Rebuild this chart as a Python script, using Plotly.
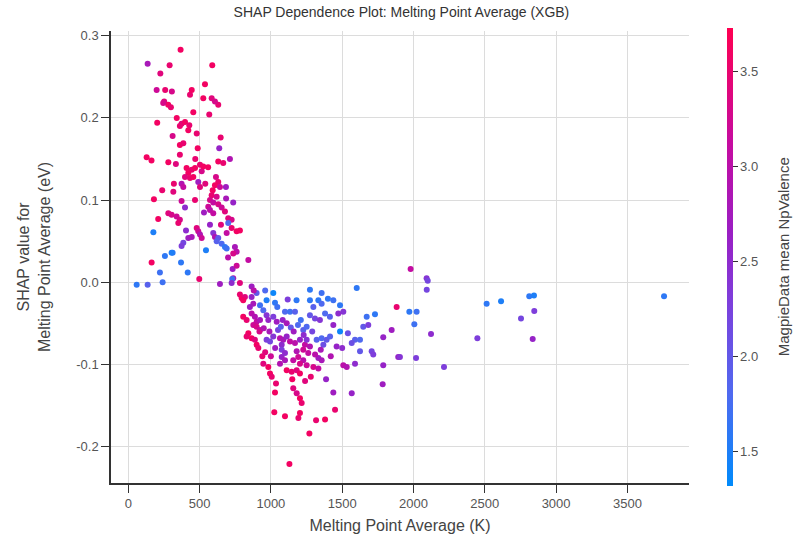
import plotly.graph_objects as go

# Melting point average (K) for each sample
melt_point = [
    136, 367, 290, 225, 589, 199, 259, 306, 252, 280, 299, 245, 433, 445, 538, 526, 585, 631, 608, 456,
    568, 203, 374, 398, 362, 428, 421, 480, 311, 648, 362, 386, 487, 638, 362, 129, 163, 281, 334, 631,
    666, 713, 409, 445, 421, 398, 468, 503, 515, 526, 433, 456, 374, 386, 491, 503, 615, 631, 608, 643,
    685, 238, 316, 592, 585, 620, 180, 374, 468, 573, 596, 631, 655, 678, 686, 736, 398, 531, 281, 304,
    339, 362, 351, 561, 573, 596, 701, 725, 210, 701, 573, 725, 760, 783, 480, 491, 405, 421, 445, 596,
    608, 631, 620, 176, 386, 374, 503, 515, 655, 678, 690, 748, 760, 736, 311, 257, 545, 842, 164, 370,
    222, 417, 732, 736, 498, 1980, 2092, 304,
    59, 136, 241, 643, 729, 725, 783, 865, 783, 795, 818, 806, 900, 865, 877, 853, 970, 1017, 1029, 1118,
    924, 947, 806, 830, 865, 888, 900, 924, 970, 982, 1017, 1041, 1099, 1134, 1169, 1083, 1111, 1274, 1356, 1333,
    1356, 1274, 1298, 1438, 1485, 1508, 1473, 1380, 1414, 1274, 1309, 1344, 1227, 1251, 1485, 1438, 1602, 1672, 1730, 1648,
    1683, 1882, 1847, 1788, 1590, 1567, 1625, 1625, 1707, 1718, 1893, 1788, 1590, 1508, 1532, 1784, 1567, 1438, 1387, 1450,
    1380, 1317, 1270, 1204, 1193, 1099, 1024, 1216, 1204, 1157, 1181, 1029, 1036, 994, 1006, 982, 947, 940, 1111, 1146,
    1181, 1204, 1064, 1076, 1099, 1157, 1192, 1227, 1204, 1251, 1298, 1333, 1333, 1356, 842, 830, 865, 888, 900, 912,
    877, 900, 924, 970, 994, 1017, 1064, 1087, 1111, 1134, 1076, 1169, 1204, 1239, 1251, 1274, 1227, 1181, 1262, 1321,
    1356, 1391, 1368, 1415, 1461, 1076, 1099,
    2100, 2093, 1971, 2022, 2006, 2123, 1905, 2018, 2214, 2448, 2513, 2614, 2812, 2845, 2754, 2847, 2836, 3757, 1130,
    920, 950, 960, 1000, 1030, 1050, 1070, 1140, 1160, 1190, 1210, 1230, 1290, 1310, 1350, 1240, 1280, 1150, 990, 1045,
    1180, 1400, 1420, 1500, 1540, 960, 880, 760, 700, 650, 690, 560, 540, 470, 340, 320,
]

# SHAP value (eV) for the melting point feature
shap_value = [
    0.266, 0.283, 0.264, 0.254, 0.264, 0.234, 0.234, 0.232, 0.220, 0.216, 0.213, 0.218, 0.228, 0.234, 0.241, 0.224, 0.224, 0.216, 0.220, 0.207,
    0.204, 0.194, 0.193, 0.195, 0.190, 0.191, 0.185, 0.181, 0.178, 0.176, 0.167, 0.169, 0.163, 0.163, 0.155, 0.152, 0.148, 0.146, 0.144, 0.147,
    0.145, 0.150, 0.139, 0.137, 0.133, 0.128, 0.139, 0.143, 0.135, 0.141, 0.127, 0.128, 0.120, 0.116, 0.122, 0.116, 0.128, 0.122, 0.118, 0.116,
    0.116, 0.112, 0.110, 0.112, 0.106, 0.104, 0.101, 0.099, 0.100, 0.100, 0.097, 0.095, 0.091, 0.086, 0.102, 0.097, 0.091, 0.085, 0.084, 0.082,
    0.080, 0.076, 0.072, 0.092, 0.088, 0.084, 0.078, 0.076, 0.077, 0.072, 0.070, 0.066, 0.062, 0.063, 0.066, 0.062, 0.063, 0.054, 0.055, 0.060,
    0.055, 0.054, 0.050, 0.061, 0.048, 0.044, 0.058, 0.054, 0.047, 0.043, 0.041, 0.043, 0.037, 0.035, 0.036, 0.032, 0.039, 0.027, 0.024, 0.024,
    0.012, 0.012, 0.016, 0.005, 0.004, 0.016, 0.005, 0.036,
    -0.003, -0.003, 0.000, -0.002, 0.004, -0.001, -0.001, -0.005, -0.015, -0.019, -0.018, -0.022, -0.013, -0.018, -0.026, -0.030, -0.022, -0.013, -0.025, -0.021,
    -0.028, -0.034, -0.042, -0.046, -0.038, -0.042, -0.048, -0.046, -0.040, -0.046, -0.042, -0.048, -0.036, -0.036, -0.036, -0.046, -0.050, -0.009, -0.013, -0.022,
    -0.026, -0.022, -0.030, -0.022, -0.028, -0.036, -0.038, -0.038, -0.042, -0.040, -0.044, -0.046, -0.058, -0.054, -0.060, -0.052, -0.007, -0.042, -0.039, -0.054,
    -0.052, -0.030, -0.058, -0.067, -0.070, -0.074, -0.070, -0.084, -0.084, -0.088, -0.091, -0.101, -0.099, -0.101, -0.103, -0.124, -0.135, -0.134, -0.118, -0.155,
    -0.167, -0.168, -0.184, -0.159, -0.165, -0.163, -0.158, -0.147, -0.141, -0.129, -0.135, -0.134, -0.123, -0.111, -0.115, -0.103, -0.099, -0.090, -0.107, -0.109,
    -0.107, -0.111, -0.099, -0.091, -0.095, -0.095, -0.091, -0.095, -0.099, -0.101, -0.103, -0.105, -0.092, -0.095, -0.062, -0.066, -0.068, -0.070, -0.076, -0.080,
    -0.052, -0.054, -0.058, -0.070, -0.072, -0.066, -0.068, -0.070, -0.066, -0.072, -0.076, -0.074, -0.070, -0.076, -0.070, -0.078, -0.082, -0.084, -0.086, -0.070,
    -0.068, -0.070, -0.076, -0.066, -0.078, -0.082, -0.086,
    0.002, -0.009, -0.036, -0.036, -0.051, -0.063, -0.091, -0.092, -0.103, -0.068, -0.026, -0.023, -0.017, -0.016, -0.044, -0.035, -0.069, -0.017, -0.221,
    -0.060, -0.056, -0.085, -0.090, -0.080, -0.058, -0.054, -0.055, -0.060, -0.052, -0.046, -0.064, -0.060, -0.088, -0.082, -0.120, -0.115, -0.118, -0.060, -0.030,
    -0.022, -0.020, -0.090, -0.080, -0.062, -0.010, -0.010, 0.020, 0.030, 0.070, 0.060, 0.140, 0.120, 0.150, 0.200, 0.120,
]

# Colouring feature: MagpieData mean NpValence
np_valence = [
    2.8, 3.6, 3.5, 3.4, 3.6, 3.2, 3.5, 3.3, 3.4, 3.6, 3.5, 3.3, 3.5, 3.6, 3.6, 3.6, 3.4, 3.5, 3.3, 3.6,
    3.5, 3.6, 3.4, 3.6, 3.5, 3.5, 3.6, 3.5, 3.3, 3.5, 3.6, 3.5, 3.6, 2.6, 3.5, 3.6, 3.6, 3.6, 3.4, 3.6,
    3.5, 2.9, 3.6, 3.5, 3.6, 3.4, 3.6, 3.5, 3.3, 3.6, 3.5, 3.6, 2.9, 3.1, 2.7, 3.4, 3.3, 3.5, 3.6, 3.2,
    2.7, 3.5, 3.4, 3.6, 3.5, 3.3, 3.6, 3.2, 3.5, 3.3, 3.1, 3.3, 3.2, 3.4, 2.8, 2.6, 2.5, 2.7, 3.4, 3.3,
    3.2, 3.3, 3.5, 3.2, 3.0, 3.1, 3.4, 3.3, 3.6, 1.8, 2.6, 3.5, 3.6, 3.6, 3.4, 3.2, 2.5, 2.7, 2.8, 2.4,
    2.9, 2.0, 1.9, 1.5, 2.2, 2.3, 2.9, 3.2, 1.8, 1.6, 1.7, 2.8, 3.0, 3.3, 1.6, 1.6, 1.5, 3.1, 3.6, 1.6,
    1.7, 1.6, 2.7, 2.8, 3.5, 3.1, 2.4, 1.5,
    1.6, 1.9, 1.7, 2.7, 1.7, 2.5, 3.4, 2.7, 3.5, 3.6, 3.4, 3.6, 2.0, 2.6, 2.8, 2.7, 1.5, 1.4, 1.6, 2.3,
    1.7, 1.8, 3.6, 3.5, 3.0, 2.9, 3.1, 2.8, 2.4, 2.6, 2.3, 2.7, 1.8, 1.7, 1.9, 2.6, 2.8, 1.6, 1.7, 1.6,
    1.8, 1.6, 1.9, 1.7, 1.6, 2.4, 2.5, 1.8, 1.9, 2.0, 2.2, 2.4, 1.9, 1.8, 1.4, 2.6, 1.6, 1.7, 1.6, 2.0,
    2.3, 3.5, 2.7, 2.6, 1.9, 2.1, 1.8, 2.0, 2.2, 2.3, 2.6, 2.6, 2.5, 3.0, 2.9, 2.7, 2.6, 2.7, 2.6, 3.5,
    3.6, 3.5, 3.6, 3.6, 3.5, 3.6, 3.6, 3.5, 3.6, 3.4, 3.3, 3.6, 3.5, 3.6, 3.5, 3.6, 3.4, 3.5, 3.6, 3.5,
    3.4, 3.6, 2.9, 2.6, 2.8, 3.1, 3.2, 3.0, 3.3, 3.2, 3.3, 3.1, 2.7, 2.8, 3.6, 3.5, 3.6, 3.4, 3.6, 3.5,
    3.2, 3.3, 3.0, 2.3, 2.2, 2.4, 3.0, 2.8, 2.6, 3.1, 2.5, 3.0, 2.6, 3.1, 2.4, 2.9, 3.2, 2.9, 3.1, 1.9,
    1.8, 2.0, 2.1, 1.9, 2.6, 2.3, 2.5,
    2.2, 2.2, 1.6, 1.7, 1.7, 2.5, 2.4, 2.3, 2.3, 2.3, 1.6, 1.5, 1.6, 1.5, 2.2, 2.3, 2.6, 1.6, 3.6,
    3.3, 2.9, 3.4, 3.2, 2.7, 2.2, 1.9, 2.0, 2.7, 1.8, 1.7, 2.5, 2.2, 3.0, 2.8, 3.4, 3.5, 3.6, 2.8, 1.7,
    1.6, 1.6, 2.9, 2.5, 2.1, 1.8, 3.0, 3.2, 3.0, 3.4, 3.1, 3.6, 3.4, 3.5, 3.6, 3.5,
]

x_ticks = [0, 500, 1000, 1500, 2000, 2500, 3000, 3500]
y_ticks = [-0.2, -0.1, 0.0, 0.1, 0.2, 0.3]
cbar_ticks = [1.5, 2.0, 2.5, 3.0, 3.5]

# blue -> purple -> red diverging map used by SHAP
red_blue = [
    [0.0, "#008bfb"],
    [0.2, "#4f6af0"],
    [0.4, "#7d3fdc"],
    [0.55, "#9a1fc4"],
    [0.75, "#c60ba0"],
    [1.0, "#ff0051"],
]

FONT = "Liberation Sans, Arial, sans-serif"
GREY_TEXT = "#555555"

fig = go.Figure(
    go.Scatter(
        x=melt_point,
        y=shap_value,
        mode="markers",
        marker=dict(
            size=6,
            color=np_valence,
            colorscale=red_blue,
            cmin=1.32,
            cmax=3.73,
            line=dict(width=0),
            colorbar=dict(
                x=1.0657,
                xanchor="left",
                xpad=0,
                y=0.5,
                yanchor="middle",
                len=458,
                lenmode="pixels",
                ypad=0,
                thickness=6,
                outlinewidth=0,
                tickvals=cbar_ticks,
                ticktext=[f"{v:.1f}" for v in cbar_ticks],
                ticks="outside",
                ticklen=5,
                tickcolor="#333333",
                tickfont=dict(family=FONT, size=13, color=GREY_TEXT),
            ),
        ),
        showlegend=False,
        hoverinfo="skip",
    )
)

fig.update_layout(
    width=796,
    height=546,
    margin=dict(l=111, r=107, t=31, b=63),
    paper_bgcolor="white",
    plot_bgcolor="white",
    font=dict(family=FONT, color=GREY_TEXT),
    title=dict(
        text="SHAP Dependence Plot: Melting Point Average (XGB)",
        x=0.5025,
        xref="paper",
        xanchor="center",
        y=0.978,
        yref="container",
        yanchor="middle",
        font=dict(family=FONT, size=14, color="#333333"),
    ),
    annotations=[
        dict(
            text="MagpieData mean NpValence",
            textangle=-90,
            x=1.163,
            y=0.5,
            xref="paper",
            yref="paper",
            xanchor="center",
            yanchor="middle",
            showarrow=False,
            font=dict(family=FONT, size=15, color="#444444"),
        )
    ],
)

fig.update_xaxes(
    range=[-121, 3932],
    tickvals=x_ticks,
    ticktext=[str(v) for v in x_ticks],
    showgrid=True,
    gridcolor="#dcdcdc",
    gridwidth=1,
    zeroline=False,
    showline=True,
    linecolor="#333333",
    linewidth=1.5,
    ticks="outside",
    ticklen=8,
    tickwidth=1.2,
    tickcolor="#333333",
    tickfont=dict(family=FONT, size=13, color=GREY_TEXT),
    title=dict(
        text="Melting Point Average (K)",
        font=dict(family=FONT, size=16, color="#444444"),
        standoff=9,
    ),
)

fig.update_yaxes(
    range=[-0.2442, 0.3057],
    tickvals=y_ticks,
    ticktext=[f"{v:.1f}" for v in y_ticks],
    showgrid=True,
    gridcolor="#dcdcdc",
    gridwidth=1,
    zeroline=False,
    showline=True,
    linecolor="#333333",
    linewidth=1.5,
    ticks="outside",
    ticklen=8,
    tickwidth=1.2,
    tickcolor="#333333",
    tickfont=dict(family=FONT, size=13, color=GREY_TEXT),
    title=dict(
        text="SHAP value for<br>Melting Point Average (eV)",
        font=dict(family=FONT, size=16, color="#444444"),
        standoff=22,
    ),
)

fig.write_html("out.html")
